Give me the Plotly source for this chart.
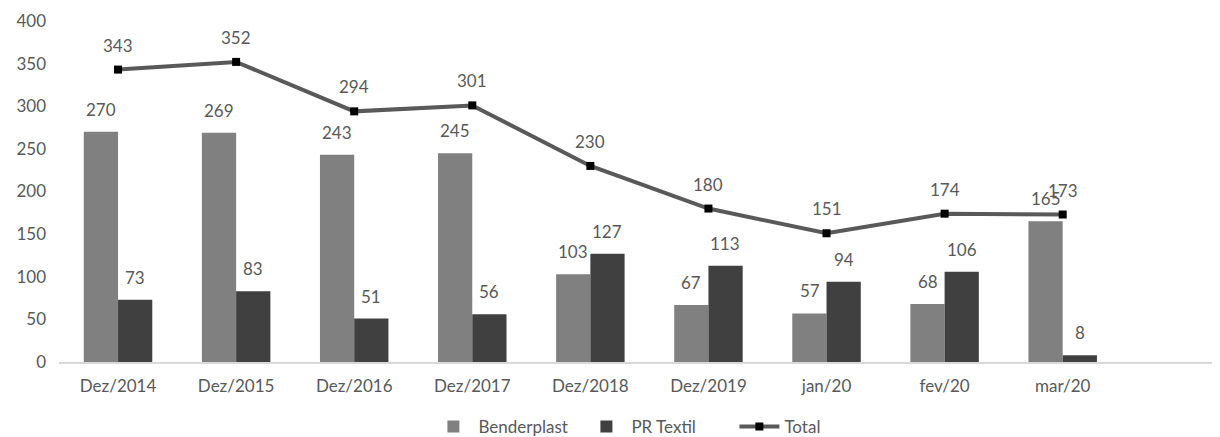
import plotly.graph_objects as go

categories = ["Dez/2014", "Dez/2015", "Dez/2016", "Dez/2017", "Dez/2018",
              "Dez/2019", "jan/20", "fev/20", "mar/20"]
benderplast = [270, 269, 243, 245, 103, 67, 57, 68, 165]
pr_textil = [73, 83, 51, 56, 127, 113, 94, 106, 8]
total = [343, 352, 294, 301, 230, 180, 151, 174, 173]
y_ticks = [0, 50, 100, 150, 200, 250, 300, 350, 400]

FONT = "Lato, Calibri, Carlito, sans-serif"
TXT = "#595959"
FS = 17

fig = go.Figure()
fig.add_trace(go.Bar(x=categories, y=benderplast, name="Benderplast",
                     marker=dict(color="#808080", line=dict(width=0))))
fig.add_trace(go.Bar(x=categories, y=pr_textil, name="PR Textil",
                     marker=dict(color="#404040", line=dict(width=0))))
fig.add_trace(go.Scatter(x=categories, y=total, name="Total", mode="lines+markers",
                         line=dict(color="#595959", width=4),
                         marker=dict(symbol="square", size=8, color="#000000")))

annotations = []
for c, v in zip(categories, benderplast):
    annotations.append(dict(x=c, y=v, text=str(v), xref="x", yref="y", showarrow=False,
                            xshift=-17, yshift=10, yanchor="bottom",
                            font=dict(family=FONT, size=FS, color=TXT)))
for c, v in zip(categories, pr_textil):
    annotations.append(dict(x=c, y=v, text=str(v), xref="x", yref="y", showarrow=False,
                            xshift=17, yshift=10, yanchor="bottom",
                            font=dict(family=FONT, size=FS, color=TXT)))
for c, v in zip(categories, total):
    annotations.append(dict(x=c, y=v, text=str(v), xref="x", yref="y", showarrow=False,
                            xshift=0, yshift=12, yanchor="bottom",
                            font=dict(family=FONT, size=FS, color=TXT)))

fig.update_layout(
    width=1220, height=437,
    margin=dict(l=51, r=0, t=13, b=82),
    paper_bgcolor="white", plot_bgcolor="white",
    barmode="group", bargap=0.42, bargroupgap=0,
    font=dict(family=FONT, size=FS, color=TXT),
    showlegend=True,
    legend=dict(orientation="h", x=0.316, xanchor="left", xref="paper",
                y=-0.19, yanchor="middle", font=dict(size=FS, color=TXT),
                itemwidth=40, entrywidth=98, entrywidthmode="pixels",
                tracegroupgap=0),
    annotations=annotations,
)
fig.update_xaxes(type="category", range=[-0.5, 9.4], showgrid=False,
                 showline=True, linecolor="#d9d9d9", linewidth=2,
                 ticks="", tickfont=dict(size=FS, color=TXT), ticklabelstandoff=8,
                 zeroline=False, automargin=False)
fig.update_yaxes(range=[0, 400], tickvals=y_ticks, showgrid=False, showline=False,
                 zeroline=False, ticks="", tickfont=dict(size=FS, color=TXT),
                 ticklabelstandoff=12, automargin=False)

fig.write_html("out.html")
